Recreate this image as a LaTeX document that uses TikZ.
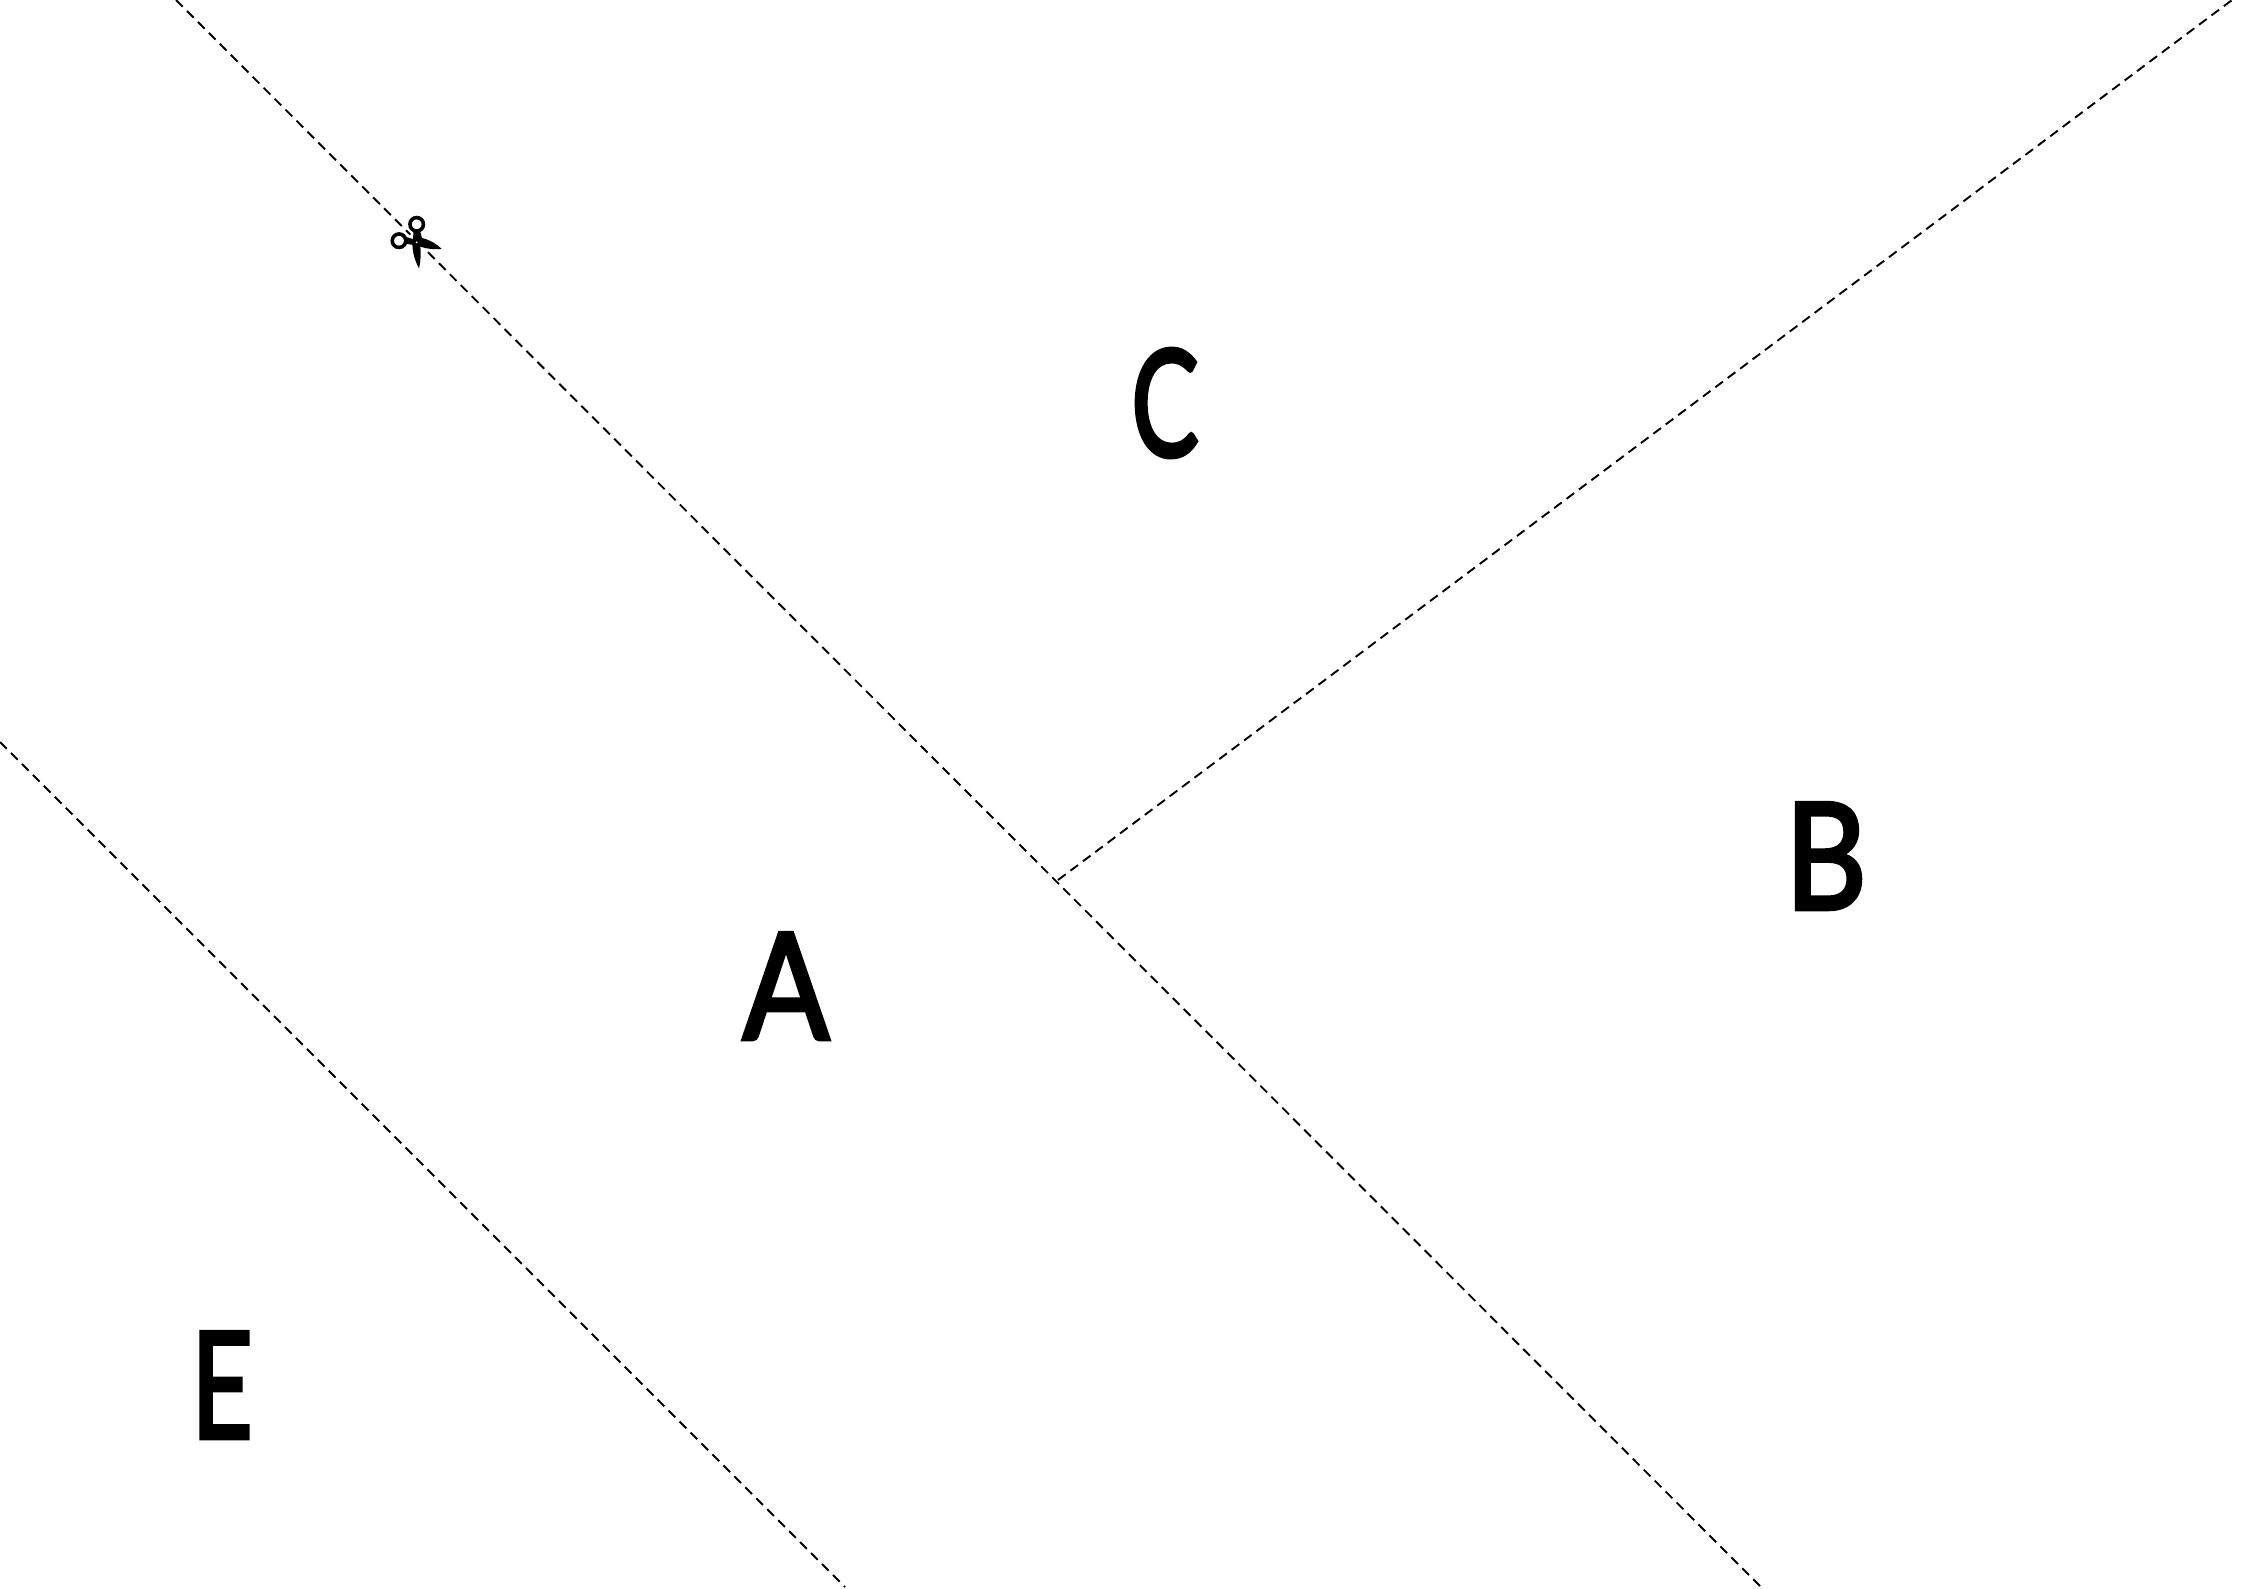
\documentclass[tikz,border=0pt]{standalone}
\usepackage{fontspec}
\setmainfont{Lato}[FakeBold=3]
\tikzset{
  cutline/.style={black,line width=1.9pt,dash pattern=on 9.5pt off 6pt},
  letter/.style={black,inner sep=0pt,font=\fontsize{148}{148}\selectfont,transform shape},
  scissorring/.style={draw=black,line width=3.6pt,fill=white},
  scissorblade/.style={fill=black,draw=none}
}
\begin{document}
\begin{tikzpicture}[x=1pt,y=-1pt]
\useasboundingbox (0,0) rectangle (2246,1588);
\coordinate (t1) at (176,0);
\coordinate (b1) at (1760,1586);
\coordinate (j) at (1058,880);
\coordinate (t2) at (2232,0);
\coordinate (l3) at (0,742);
\coordinate (b3) at (845,1587);
\draw[cutline] (t1) -- (b1);
\draw[cutline] (j) -- (t2);
\draw[cutline] (l3) -- (b3);
% scissors
\coordinate (pivot) at (416.7,242.3);
\coordinate (tipa) at (441.7,249);
\coordinate (tipb) at (419,268.3);
\fill[white] (pivot) circle (10pt);
\path[scissorblade] (413.5,231) -- (420,231) -- (422,238)
  .. controls (430,240) and (437,244) .. (tipa)
  .. controls (432,250) and (424,248) .. (417,245.5)
  -- (404,243.5) -- (406,237) -- (413,239) -- cycle;
\path[scissorblade] (412.5,242) -- (420,243)
  .. controls (421,252) and (421,260) .. (tipb)
  .. controls (415,261) and (412,252) .. (412.5,242) -- cycle;
\node[scissorring,circle,minimum size=13.5pt,inner sep=0pt] (ringa) at (416.7,224.3) {};
\node[scissorring,circle,minimum size=13.5pt,inner sep=0pt] (ringb) at (399,240.7) {};
\fill[white] (pivot) circle (1pt);
\node[letter,xscale=.86] (A) at (786,986) {A};
\node[letter,xscale=.85] (B) at (1826,856) {B};
\node[letter,xscale=.68] (C) at (1165,403) {C};
\node[letter,xscale=.72] (E) at (222,1385) {E};
\end{tikzpicture}
\end{document}
